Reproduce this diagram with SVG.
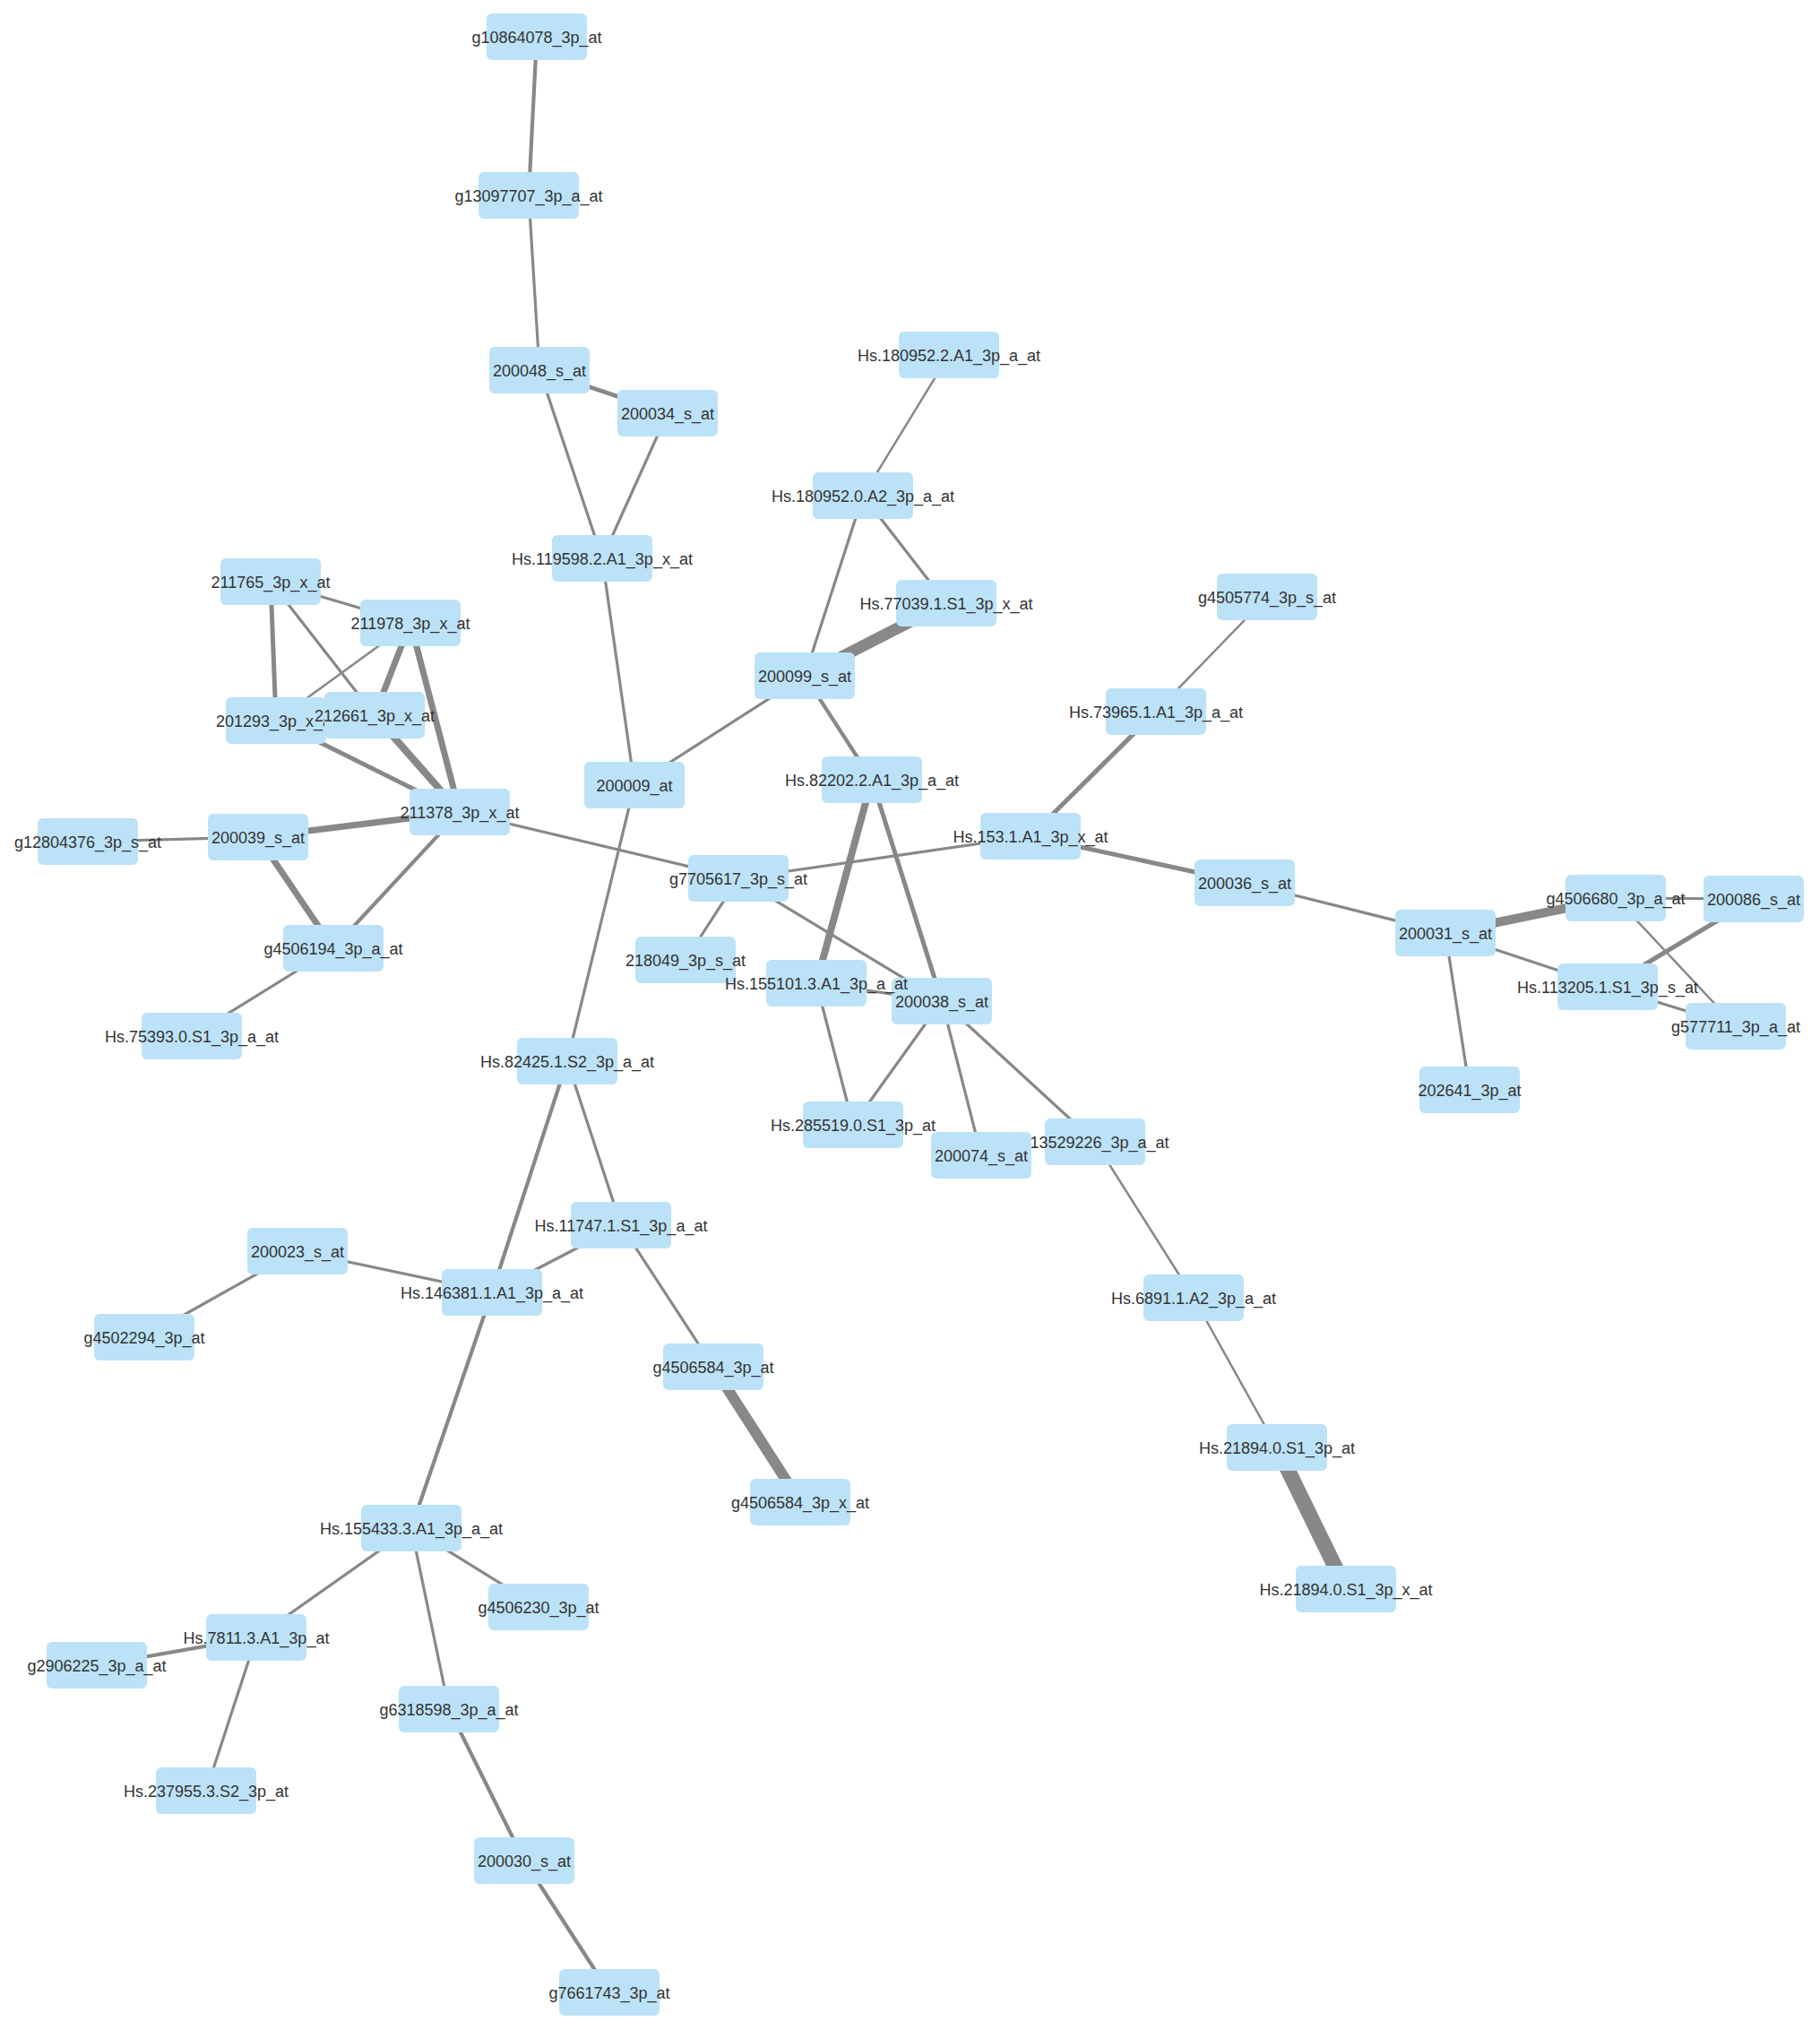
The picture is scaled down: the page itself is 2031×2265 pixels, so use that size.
<svg xmlns="http://www.w3.org/2000/svg" width="2031" height="2265" viewBox="0 0 2031 2265">
<style>
.bg{fill:#ffffff}
.e{stroke:#888888;stroke-linecap:round;fill:none}
.w2{stroke-width:2.5}
.w3{stroke-width:3.2}
.w4{stroke-width:4.2}
.w5{stroke-width:5}
.w7{stroke-width:7}
.w8{stroke-width:8}
.w10{stroke-width:10}
.w12{stroke-width:12}
.w13{stroke-width:13}
.w17{stroke-width:17}
.n use{fill:#bce2f7}
.n text{font-family:"Liberation Sans",Arial,sans-serif;font-size:18px;fill:#333333;text-anchor:middle}
</style>
<defs>
<rect id="box" x="-56" y="-26" width="112" height="52" rx="6" ry="6" fill="#bce2f7"/>
</defs>
<rect class="bg" x="0" y="0" width="2031" height="2265"/>
<g id="connectors">
<line class="e w4" x1="599" y1="41" x2="590" y2="218"/>
<line class="e w3" x1="590" y1="218" x2="602" y2="413"/>
<line class="e w5" x1="602" y1="413" x2="745" y2="461"/>
<line class="e w3" x1="602" y1="413" x2="672" y2="623"/>
<line class="e w3" x1="745" y1="461" x2="672" y2="623"/>
<line class="e w3" x1="672" y1="623" x2="708" y2="876"/>
<line class="e w2" x1="1059" y1="396" x2="963" y2="553"/>
<line class="e w3" x1="963" y1="553" x2="1056" y2="673"/>
<line class="e w3" x1="963" y1="553" x2="898" y2="754"/>
<line class="e w13" x1="1056" y1="673" x2="898" y2="754"/>
<line class="e w3" x1="898" y1="754" x2="708" y2="876"/>
<line class="e w4" x1="898" y1="754" x2="973" y2="870"/>
<line class="e w8" x1="973" y1="870" x2="911" y2="1097"/>
<line class="e w5" x1="973" y1="870" x2="1051" y2="1117"/>
<line class="e w3" x1="824" y1="980" x2="1150" y2="933"/>
<line class="e w3" x1="513" y1="906" x2="824" y2="980"/>
<line class="e w3" x1="824" y1="980" x2="765" y2="1071"/>
<line class="e w3" x1="824" y1="980" x2="1051" y2="1117"/>
<line class="e w3" x1="708" y1="876" x2="633" y2="1184"/>
<line class="e w3" x1="911" y1="1097" x2="1051" y2="1117"/>
<line class="e w3" x1="911" y1="1097" x2="952" y2="1255"/>
<line class="e w3" x1="1051" y1="1117" x2="952" y2="1255"/>
<line class="e w3" x1="1051" y1="1117" x2="1095" y2="1289"/>
<line class="e w3" x1="1051" y1="1117" x2="1222" y2="1274"/>
<line class="e w2" x1="1222" y1="1274" x2="1332" y2="1448"/>
<line class="e w2" x1="1332" y1="1448" x2="1425" y2="1615"/>
<line class="e w17" x1="1425" y1="1615" x2="1502" y2="1773"/>
<line class="e w2" x1="1290" y1="794" x2="1414" y2="666"/>
<line class="e w5" x1="1150" y1="933" x2="1290" y2="794"/>
<line class="e w5" x1="1150" y1="933" x2="1389" y2="985"/>
<line class="e w3" x1="1389" y1="985" x2="1613" y2="1041"/>
<line class="e w10" x1="1613" y1="1041" x2="1803" y2="1002"/>
<line class="e w3" x1="1613" y1="1041" x2="1794" y2="1101"/>
<line class="e w3" x1="1613" y1="1041" x2="1640" y2="1216"/>
<line class="e w3" x1="1803" y1="1002" x2="1957" y2="1003"/>
<line class="e w2" x1="1803" y1="1002" x2="1937" y2="1145"/>
<line class="e w5" x1="1957" y1="1003" x2="1794" y2="1101"/>
<line class="e w3" x1="1794" y1="1101" x2="1937" y2="1145"/>
<line class="e w3" x1="302" y1="649" x2="458" y2="695"/>
<line class="e w5" x1="302" y1="649" x2="308" y2="804"/>
<line class="e w3" x1="302" y1="649" x2="418" y2="798"/>
<line class="e w2" x1="458" y1="695" x2="308" y2="804"/>
<line class="e w7" x1="458" y1="695" x2="418" y2="798"/>
<line class="e w7" x1="458" y1="695" x2="513" y2="906"/>
<line class="e w5" x1="308" y1="804" x2="513" y2="906"/>
<line class="e w8" x1="418" y1="798" x2="513" y2="906"/>
<line class="e w7" x1="288" y1="934" x2="513" y2="906"/>
<line class="e w3" x1="288" y1="934" x2="98" y2="939"/>
<line class="e w7" x1="288" y1="934" x2="372" y2="1058"/>
<line class="e w4" x1="513" y1="906" x2="372" y2="1058"/>
<line class="e w3" x1="372" y1="1058" x2="214" y2="1156"/>
<line class="e w4" x1="633" y1="1184" x2="549" y2="1442"/>
<line class="e w3" x1="633" y1="1184" x2="693" y2="1367"/>
<line class="e w3" x1="693" y1="1367" x2="549" y2="1442"/>
<line class="e w3" x1="693" y1="1367" x2="796" y2="1525"/>
<line class="e w12" x1="796" y1="1525" x2="893" y2="1676"/>
<line class="e w3" x1="332" y1="1396" x2="549" y2="1442"/>
<line class="e w3" x1="332" y1="1396" x2="161" y2="1492"/>
<line class="e w4" x1="549" y1="1442" x2="459" y2="1705"/>
<line class="e w3" x1="459" y1="1705" x2="286" y2="1827"/>
<line class="e w3" x1="459" y1="1705" x2="601" y2="1793"/>
<line class="e w3" x1="459" y1="1705" x2="501" y2="1907"/>
<line class="e w4" x1="286" y1="1827" x2="108" y2="1858"/>
<line class="e w3" x1="286" y1="1827" x2="230" y2="1998"/>
<line class="e w4" x1="501" y1="1907" x2="585" y2="2076"/>
<line class="e w4" x1="585" y1="2076" x2="680" y2="2223"/>
</g>
<g id="n1" class="n" transform="translate(599,41)"><use href="#box"/><text y="6.5">g10864078_3p_at</text></g>
<g id="n2" class="n" transform="translate(590,218)"><use href="#box"/><text y="6.5">g13097707_3p_a_at</text></g>
<g id="n3" class="n" transform="translate(602,413)"><use href="#box"/><text y="6.5">200048_s_at</text></g>
<g id="n4" class="n" transform="translate(745,461)"><use href="#box"/><text y="6.5">200034_s_at</text></g>
<g id="n5" class="n" transform="translate(672,623)"><use href="#box"/><text y="6.5">Hs.119598.2.A1_3p_x_at</text></g>
<g id="n6" class="n" transform="translate(1059,396)"><use href="#box"/><text y="6.5">Hs.180952.2.A1_3p_a_at</text></g>
<g id="n7" class="n" transform="translate(963,553)"><use href="#box"/><text y="6.5">Hs.180952.0.A2_3p_a_at</text></g>
<g id="n8" class="n" transform="translate(1056,673)"><use href="#box"/><text y="6.5">Hs.77039.1.S1_3p_x_at</text></g>
<g id="n9" class="n" transform="translate(898,754)"><use href="#box"/><text y="6.5">200099_s_at</text></g>
<g id="n10" class="n" transform="translate(973,870)"><use href="#box"/><text y="6.5">Hs.82202.2.A1_3p_a_at</text></g>
<g id="n11" class="n" transform="translate(1150,933)"><use href="#box"/><text y="6.5">Hs.153.1.A1_3p_x_at</text></g>
<g id="n12" class="n" transform="translate(1414,666)"><use href="#box"/><text y="6.5">g4505774_3p_s_at</text></g>
<g id="n13" class="n" transform="translate(1290,794)"><use href="#box"/><text y="6.5">Hs.73965.1.A1_3p_a_at</text></g>
<g id="n14" class="n" transform="translate(1389,985)"><use href="#box"/><text y="6.5">200036_s_at</text></g>
<g id="n15" class="n" transform="translate(1613,1041)"><use href="#box"/><text y="6.5">200031_s_at</text></g>
<g id="n16" class="n" transform="translate(1803,1002)"><use href="#box"/><text y="6.5">g4506680_3p_a_at</text></g>
<g id="n17" class="n" transform="translate(1957,1003)"><use href="#box"/><text y="6.5">200086_s_at</text></g>
<g id="n18" class="n" transform="translate(1794,1101)"><use href="#box"/><text y="6.5">Hs.113205.1.S1_3p_s_at</text></g>
<g id="n19" class="n" transform="translate(1937,1145)"><use href="#box"/><text y="6.5">g577711_3p_a_at</text></g>
<g id="n20" class="n" transform="translate(1640,1216)"><use href="#box"/><text y="6.5">202641_3p_at</text></g>
<g id="n21" class="n" transform="translate(302,649)"><use href="#box"/><text y="6.5">211765_3p_x_at</text></g>
<g id="n22" class="n" transform="translate(458,695)"><use href="#box"/><text y="6.5">211978_3p_x_at</text></g>
<g id="n23" class="n" transform="translate(308,804)"><use href="#box"/><text y="6.5">201293_3p_x_at</text></g>
<g id="n24" class="n" transform="translate(418,798)"><use href="#box"/><text y="6.5">212661_3p_x_at</text></g>
<g id="n25" class="n" transform="translate(513,906)"><use href="#box"/><text y="6.5">211378_3p_x_at</text></g>
<g id="n26" class="n" transform="translate(288,934)"><use href="#box"/><text y="6.5">200039_s_at</text></g>
<g id="n27" class="n" transform="translate(98,939)"><use href="#box"/><text y="6.5">g12804376_3p_s_at</text></g>
<g id="n28" class="n" transform="translate(372,1058)"><use href="#box"/><text y="6.5">g4506194_3p_a_at</text></g>
<g id="n29" class="n" transform="translate(214,1156)"><use href="#box"/><text y="6.5">Hs.75393.0.S1_3p_a_at</text></g>
<g id="n30" class="n" transform="translate(708,876)"><use href="#box"/><text y="6.5">200009_at</text></g>
<g id="n31" class="n" transform="translate(824,980)"><use href="#box"/><text y="6.5">g7705617_3p_s_at</text></g>
<g id="n32" class="n" transform="translate(765,1071)"><use href="#box"/><text y="6.5">218049_3p_s_at</text></g>
<g id="n34" class="n" transform="translate(1051,1117)"><use href="#box"/><text y="6.5">200038_s_at</text></g>
<g id="n33" class="n" transform="translate(911,1097)"><use href="#box"/><text y="6.5">Hs.155101.3.A1_3p_a_at</text></g>
<g id="n35" class="n" transform="translate(952,1255)"><use href="#box"/><text y="6.5">Hs.285519.0.S1_3p_at</text></g>
<g id="n37" class="n" transform="translate(1222,1274)"><use href="#box"/><text y="6.5">g13529226_3p_a_at</text></g>
<g id="n36" class="n" transform="translate(1095,1289)"><use href="#box"/><text y="6.5">200074_s_at</text></g>
<g id="n38" class="n" transform="translate(633,1184)"><use href="#box"/><text y="6.5">Hs.82425.1.S2_3p_a_at</text></g>
<g id="n39" class="n" transform="translate(693,1367)"><use href="#box"/><text y="6.5">Hs.11747.1.S1_3p_a_at</text></g>
<g id="n40" class="n" transform="translate(332,1396)"><use href="#box"/><text y="6.5">200023_s_at</text></g>
<g id="n41" class="n" transform="translate(549,1442)"><use href="#box"/><text y="6.5">Hs.146381.1.A1_3p_a_at</text></g>
<g id="n42" class="n" transform="translate(161,1492)"><use href="#box"/><text y="6.5">g4502294_3p_at</text></g>
<g id="n43" class="n" transform="translate(796,1525)"><use href="#box"/><text y="6.5">g4506584_3p_at</text></g>
<g id="n44" class="n" transform="translate(893,1676)"><use href="#box"/><text y="6.5">g4506584_3p_x_at</text></g>
<g id="n45" class="n" transform="translate(1332,1448)"><use href="#box"/><text y="6.5">Hs.6891.1.A2_3p_a_at</text></g>
<g id="n46" class="n" transform="translate(1425,1615)"><use href="#box"/><text y="6.5">Hs.21894.0.S1_3p_at</text></g>
<g id="n47" class="n" transform="translate(1502,1773)"><use href="#box"/><text y="6.5">Hs.21894.0.S1_3p_x_at</text></g>
<g id="n48" class="n" transform="translate(459,1705)"><use href="#box"/><text y="6.5">Hs.155433.3.A1_3p_a_at</text></g>
<g id="n49" class="n" transform="translate(286,1827)"><use href="#box"/><text y="6.5">Hs.7811.3.A1_3p_at</text></g>
<g id="n50" class="n" transform="translate(108,1858)"><use href="#box"/><text y="6.5">g2906225_3p_a_at</text></g>
<g id="n51" class="n" transform="translate(601,1793)"><use href="#box"/><text y="6.5">g4506230_3p_at</text></g>
<g id="n52" class="n" transform="translate(501,1907)"><use href="#box"/><text y="6.5">g6318598_3p_a_at</text></g>
<g id="n53" class="n" transform="translate(230,1998)"><use href="#box"/><text y="6.5">Hs.237955.3.S2_3p_at</text></g>
<g id="n54" class="n" transform="translate(585,2076)"><use href="#box"/><text y="6.5">200030_s_at</text></g>
<g id="n55" class="n" transform="translate(680,2223)"><use href="#box"/><text y="6.5">g7661743_3p_at</text></g>
</svg>
